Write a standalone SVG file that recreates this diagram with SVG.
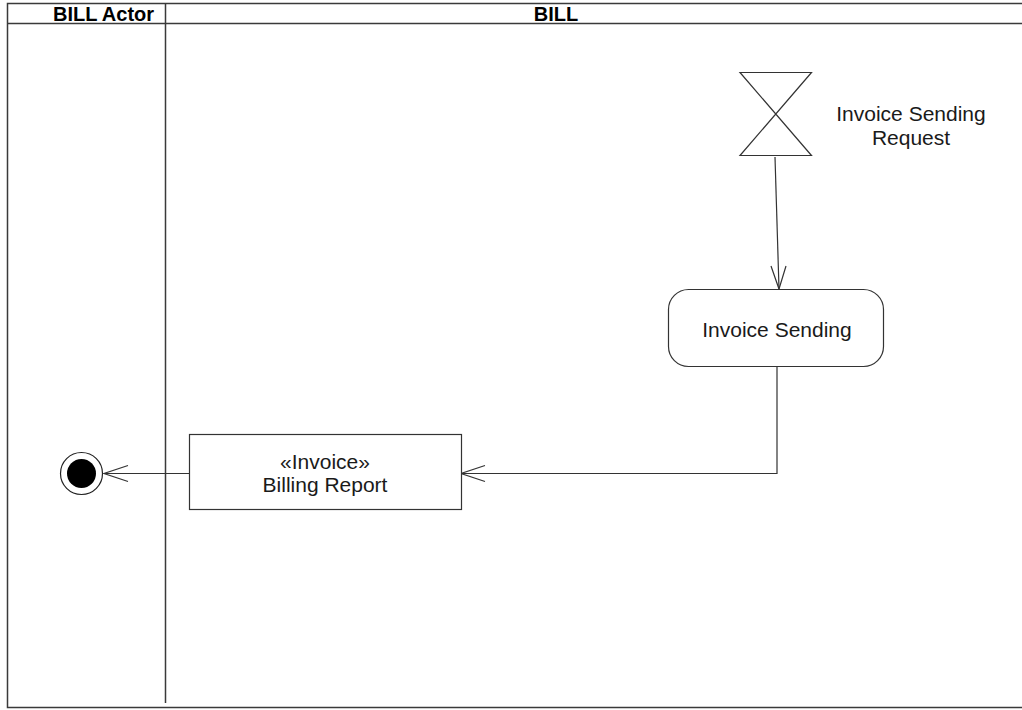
<svg xmlns="http://www.w3.org/2000/svg" width="1022" height="710" viewBox="0 0 1022 710">
<style>
.frame{fill:none;stroke:#3a3a3a;stroke-width:1.5}
.hdr{font-family:"Liberation Sans",Arial,sans-serif;font-size:20px;font-weight:bold;fill:#000;text-anchor:middle}
.lbl{font-family:"Liberation Sans",Arial,sans-serif;font-size:21px;fill:#1a1a1a;text-anchor:middle}
.node{fill:#fff;stroke:#333;stroke-width:1.2}
.conn{fill:none;stroke:#333;stroke-width:1.2}
.head{fill:none;stroke:#333;stroke-width:1.2}
</style>
<rect width="1022" height="710" fill="#fff"/>
<g id="swimlanes">
<path class="frame" d="M1024 3.5 H7.5 V707.5 H1024"/>
<line class="frame" x1="7.5" y1="23.5" x2="1024" y2="23.5"/>
<line class="frame" x1="165.5" y1="3.5" x2="165.5" y2="703"/>
<text class="hdr" x="103.5" y="20.5">BILL Actor</text>
<text class="hdr" x="556" y="20.5">BILL</text>
</g>
<g id="connectors">
<polyline class="conn" points="775,157 779,289"/>
<polyline class="head" points="771,266 779,289 786,266"/>
<polyline class="conn" points="777,367 777,473.5 461,473.5"/>
<polyline class="head" points="485,465.5 461,473.5 485,481.5"/>
<line class="conn" x1="189" y1="473.5" x2="104" y2="473.5"/>
<polyline class="head" points="128,465.5 104,473.5 128,481.5"/>
</g>
<g id="accept-event">
<polygon class="node" points="740,72.5 811.5,72.5 740,155.5 811.5,155.5"/>
<text class="lbl" x="911" y="120.5">Invoice Sending</text>
<text class="lbl" x="911" y="145">Request</text>
</g>
<g id="invoice-sending">
<rect class="node" x="668.5" y="289.5" width="215" height="77" rx="20" ry="20"/>
<text class="lbl" x="777" y="337">Invoice Sending</text>
</g>
<g id="billing-report">
<rect class="node" x="189.5" y="434.5" width="272" height="75"/>
<text class="lbl" x="325" y="469">«Invoice»</text>
<text class="lbl" x="325" y="492">Billing Report</text>
</g>
<g id="final">
<circle cx="81.5" cy="473.5" r="21" fill="#fff" stroke="#222" stroke-width="1.2"/>
<circle cx="81.5" cy="473.5" r="14.5" fill="#000"/>
</g>
</svg>
